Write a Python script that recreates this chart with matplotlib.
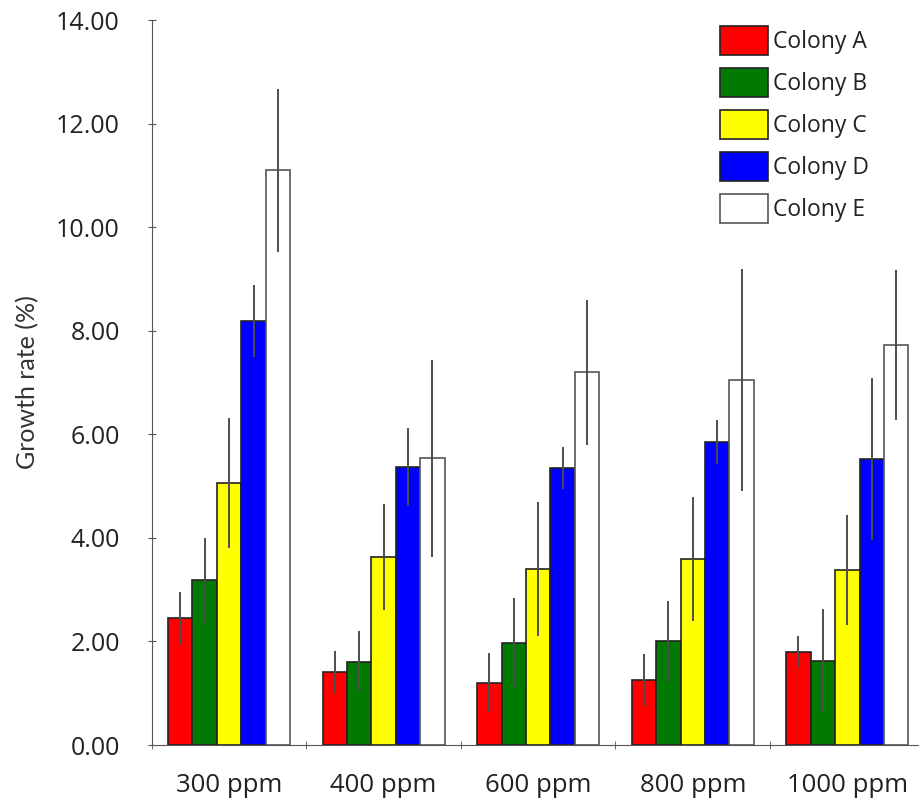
import numpy as np
import matplotlib
matplotlib.use("Agg")
import matplotlib.pyplot as plt
from matplotlib.ticker import FormatStrFormatter

categories = ["300 ppm", "400 ppm", "600 ppm", "800 ppm", "1000 ppm"]
colonies = ["Colony A", "Colony B", "Colony C", "Colony D", "Colony E"]
colors = ["#ff0000", "#007a00", "#ffff00", "#0000ff", "#ffffff"]

colony_a = [2.45, 1.41, 1.20, 1.25, 1.80]
colony_b = [3.18, 1.60, 1.97, 2.00, 1.62]
colony_c = [5.06, 3.63, 3.40, 3.59, 3.38]
colony_d = [8.19, 5.37, 5.35, 5.85, 5.52]
colony_e = [11.10, 5.54, 7.20, 7.05, 7.72]

err_a = [0.50, 0.40, 0.57, 0.50, 0.30]
err_b = [0.82, 0.60, 0.87, 0.78, 1.00]
err_c = [1.25, 1.03, 1.30, 1.20, 1.06]
err_d = [0.69, 0.75, 0.40, 0.42, 1.56]
err_e = [1.57, 1.90, 1.40, 2.15, 1.45]

values = [colony_a, colony_b, colony_c, colony_d, colony_e]
errors = [err_a, err_b, err_c, err_d, err_e]

plt.rcParams["font.family"] = ["Open Sans", "DejaVu Sans"]

fig = plt.figure(figsize=(9.2, 8.02), dpi=100)
ax = fig.add_axes([0.165, 0.071, 0.84, 0.904])

x = np.arange(len(categories))
width = 0.158
for i, (vals, errs) in enumerate(zip(values, errors)):
    pos = x + (i - 2) * width
    ec = "#555555" if i == 4 else "#222222"
    ax.bar(pos, vals, width, color=colors[i], edgecolor=ec, linewidth=1.2,
           label=colonies[i], zorder=2)
    ax.errorbar(pos, vals, yerr=errs, fmt="none", ecolor="#4d4d4d",
                elinewidth=1.4, capsize=0, zorder=3)

ax.set_ylim(0, 14)
ax.set_xlim(-0.5, 4.45)
ax.set_yticks(np.arange(0, 15, 2))
ax.yaxis.set_major_formatter(FormatStrFormatter("%.2f"))
ax.set_xticks(x)
ax.set_xticklabels(categories)
ax.set_xticks(np.arange(-0.5, 4.6, 1), minor=True)
ax.tick_params(axis="x", which="major", length=0, pad=20, labelsize=18.5)
ax.tick_params(axis="x", which="minor", length=6, color="#555555", direction="inout")
ax.tick_params(axis="y", length=6, color="#555555", labelsize=18, pad=20, direction="inout")
for t in ax.get_yticklabels() + ax.get_xticklabels():
    t.set_color("#222222")

ax.spines["top"].set_visible(False)
ax.spines["right"].set_visible(False)
ax.spines["left"].set_color("#555555")
ax.spines["bottom"].set_color("#555555")

ax.set_ylabel("Growth rate (%)", fontsize=18, family=["Lato", "DejaVu Sans"],
              color="#333333", labelpad=12)

leg = ax.legend(loc="upper left", bbox_to_anchor=(0.783, 0.968), bbox_transform=fig.transFigure,
                frameon=False, fontsize=16.5, handlelength=2.1, handleheight=1.6,
                labelspacing=0.55, handletextpad=0.2, borderaxespad=0, borderpad=0)
for t in leg.get_texts():
    t.set_color("#222222")

fig.savefig("out.png", dpi=100)
